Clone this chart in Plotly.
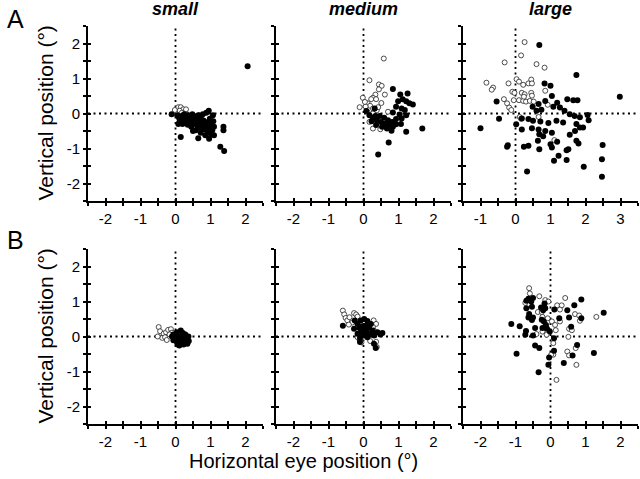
import plotly.graph_objects as go

# --- data: eye position scatter (degrees) ---
# row A, "small"
a_small_filled_x = [-0.11, 0.05, 0.10, 0.15, 0.18, 0.22, 0.25, 0.28, 0.30, 0.33, 0.36, 0.38, 0.40, 0.42,
                    0.45, 0.48, 0.50, 0.52, 0.55, 0.57, 0.60, 0.62, 0.65, 0.68, 0.70, 0.72, 0.75, 0.78,
                    0.80, 0.82, 0.85, 0.88, 0.90, 0.92, 0.95, 0.98, 1.00, 1.02, 1.05, 1.08, 1.10, 0.12,
                    0.20, 0.35, 0.45, 0.58, 0.15, 0.65, 0.96, 1.10, 1.28, 1.39, 1.37, 1.37, 0.95, 1.07,
                    2.06, 0.50, 0.72, 0.85, 0.25, 0.08]
a_small_filled_y = [-0.02, -0.05, -0.12, -0.08, -0.18, -0.05, -0.15, -0.25, -0.10, -0.20, -0.05, -0.14,
                    -0.28, -0.10, -0.20, -0.02, -0.30, -0.15, -0.08, -0.25, -0.18, -0.35, -0.05, -0.22,
                    -0.40, -0.12, -0.30, -0.02, -0.20, -0.45, -0.35, 0.02, -0.25, -0.55, -0.40, -0.15,
                    -0.30, -0.60, -0.48, -0.22, -0.38, -0.22, -0.30, -0.32, -0.38, -0.48, -0.67, -0.71,
                    -0.72, -0.62, -0.95, -1.07, -0.38, -0.48, 0.08, -0.05, 1.35, -0.50, -0.55, -0.62,
                    -0.02, -0.30]
a_small_open_x = [0.08, 0.15, 0.22, 0.02, 0.12, 0.28, 0.18, -0.02, 0.30]
a_small_open_y = [0.18, 0.18, 0.12, 0.05, 0.08, 0.05, 0.02, 0.10, 0.12]

# row A, "medium"
a_medium_filled_x = [0.84, 0.32, 0.34, 1.05, 1.26, 0.99, 1.12, 1.22, 1.31, 1.41, 0.93, 1.09, 1.18, 1.03,
                     1.22, 0.84, 0.17, 0.27, 0.38, 0.50, 0.61, 0.72, 0.84, 0.46, 0.59, 0.70, 0.82, 0.93,
                     0.67, 0.80, 1.07, 1.22, 1.68, 0.72, 0.42, 0.08, 0.23, 0.36, 0.53, 0.93, 1.09]
a_medium_filled_y = [0.70, 0.14, -0.07, 0.54, 0.57, 0.35, 0.41, 0.35, 0.29, 0.26, 0.19, 0.14, 0.10, -0.03,
                     -0.05, 0.03, -0.05, -0.12, -0.19, -0.24, -0.29, -0.33, -0.38, -0.07, -0.12, -0.19,
                     -0.24, -0.31, -0.43, -0.49, -0.30, -0.52, -0.43, -0.83, -1.17, 0.07, -0.22, -0.33,
                     -0.38, -0.16, -0.14]
a_medium_open_x = [0.58, 0.17, 0.44, 0.52, 0.44, -0.02, 0.34, 0.27, 0.22, 0.36, 0.61, 0.12, 0.19, -0.11,
                   0.06, 0.27, 0.38, 0.51, 0.11, 0.27, 0.70, 0.17, 0.27, 0.48, 0.42, 0.04]
a_medium_open_y = [1.57, 0.95, 0.83, 0.79, 0.69, 0.45, 0.54, 0.45, 0.41, 0.41, 0.54, 0.29, 0.22, 0.18,
                   0.20, 0.14, 0.09, 0.30, 0.05, 0.00, 0.05, -0.24, -0.43, -0.45, 0.18, 0.33]

# row A, "large"
a_large_filled_x = [0.68, 1.74, 2.98, -0.54, -0.47, -1.00, 0.83, 1.00, 1.04, 0.85, 1.19, 1.48, 1.65, 1.77,
                    0.66, 0.49, 1.08, 1.27, 0.60, 0.74, 1.40, 1.55, 1.69, 2.06, 1.84, 2.09, 0.02, 0.18,
                    0.37, 0.50, 0.71, 0.94, 1.17, 1.36, 1.74, 1.93, 0.18, 0.47, 0.66, 0.85, 1.04, 0.68,
                    0.79, 1.55, 1.70, 1.84, 0.64, 1.00, 1.19, 1.04, 1.74, 1.80, 1.46, 1.51, -0.24, 0.24,
                    0.37, 0.68, 1.23, 1.10, 1.46, 1.95, 0.33, 2.49, 2.47, 2.47, -0.22]
a_large_filled_y = [1.96, 1.10, 0.48, 0.34, -0.15, -0.42, 0.86, 0.79, 0.50, 0.36, 0.31, 0.41, 0.38, 0.38,
                    0.27, 0.19, 0.19, 0.17, 0.08, 0.11, 0.08, -0.02, -0.07, -0.04, -0.11, -0.19, -0.31,
                    -0.14, -0.16, -0.21, -0.23, -0.27, -0.21, -0.26, -0.30, -0.40, -0.46, -0.42, -0.46,
                    -0.50, -0.55, -0.59, -0.65, -0.61, -0.50, -0.40, -0.78, -0.88, -0.81, -0.97, -0.78,
                    -0.86, -1.05, -1.02, -0.95, -0.95, -0.92, -1.02, -1.21, -1.35, -1.33, -1.52, -1.66,
                    -0.90, -1.31, -1.81, -0.91]
a_large_open_x = [0.26, 0.16, -0.31, 0.60, 0.83, -0.83, -0.64, -0.68, -0.20, 0.03, 0.10, 0.22, 0.37, 0.45,
                  0.47, 0.85, -0.09, -0.03, 0.18, 0.26, 0.45, 0.47, -0.33, -0.05, 0.10, 0.22, 0.30, 0.41,
                  0.52, -0.24, -0.18, -0.12, 0.12, 0.16, 0.92, 0.66, 1.11, 0.24]
a_large_open_y = [2.04, 1.66, 1.46, 1.41, 1.31, 0.88, 0.74, 0.68, 0.86, 0.98, 0.91, 0.82, 0.86, 0.97,
                  0.86, 0.65, 0.62, 0.59, 0.59, 0.55, 0.59, 0.51, 0.41, 0.38, 0.38, 0.36, 0.34, 0.36,
                  0.34, 0.29, 0.17, 0.10, -0.10, -0.15, 0.25, -0.10, -0.76, 0.48]

# row B, "small"
b_small_filled_x = [-0.06, 0.04, 0.15, -0.01, 0.09, 0.18, 0.28, 0.04, 0.13, 0.23, 0.32, 0.38, 0.11, 0.23,
                    0.34, -0.10, -0.06, 0.06, 0.37, 0.21, 0.30]
b_small_filled_y = [0.06, 0.12, 0.17, -0.07, 0.00, 0.02, 0.06, -0.16, -0.13, -0.10, -0.07, -0.13, -0.26,
                    -0.23, -0.21, 0.00, -0.11, -0.23, 0.00, 0.10, -0.16]
b_small_open_x = [-0.48, -0.44, -0.34, -0.27, -0.38, -0.21, -0.13, -0.10, -0.51, -0.30, -0.17, -0.25]
b_small_open_y = [0.27, 0.15, 0.08, 0.12, -0.04, 0.19, 0.21, 0.11, 0.00, -0.02, 0.06, -0.10]

# row B, "medium"
b_medium_filled_x = [-0.59, -0.25, -0.17, -0.08, 0.02, 0.11, 0.21, -0.12, -0.03, 0.07, 0.16, 0.26, -0.08,
                     0.02, 0.11, 0.21, -0.17, 0.00, -0.10, 0.11, 0.54, 0.48, -0.10, 0.30, 0.35, -0.27,
                     0.07, 0.30, 0.40]
b_medium_filled_y = [0.31, 0.46, 0.36, 0.46, 0.50, 0.44, 0.36, 0.25, 0.29, 0.31, 0.25, 0.17, 0.12, 0.15,
                     0.10, 0.06, 0.08, 0.03, -0.04, -0.02, 0.10, 0.06, -0.16, -0.21, -0.33, 0.22, 0.19,
                     0.03, 0.12]
b_medium_open_x = [-0.59, -0.55, -0.51, -0.46, -0.40, -0.27, -0.21, -0.17, -0.32, -0.42, 0.29, 0.36, 0.27,
                   0.30, -0.11, -0.06, 0.19, 0.36, 0.38, -0.17]
b_medium_open_y = [0.74, 0.63, 0.53, 0.46, 0.55, 0.67, 0.63, 0.57, 0.40, 0.34, 0.46, 0.36, 0.27, 0.17,
                   -0.10, -0.17, -0.13, -0.15, -0.30, -0.02]

# row B, "large"
b_large_filled_x = [-1.12, -0.97, -0.88, -0.70, -0.72, -0.63, -0.50, -0.55, -0.69, -0.69, -0.53, -0.61,
                    -0.63, -0.50, -0.53, -0.50, -0.44, -0.44, -0.32, -0.34, -0.25, -0.27, -0.21, -0.15,
                    -0.17, -0.19, -0.23, -0.13, -0.10, -0.02, 0.10, 0.11, 0.25, 0.10, -0.06, -0.04, 0.48,
                    0.53, 0.68, 0.88, 0.88, 0.59, 0.76, 0.63, 0.38, 1.24, 1.52]
b_large_filled_y = [0.36, -0.49, 0.29, 0.16, 0.05, 1.08, 1.10, 1.00, 1.02, 0.81, 0.85, 0.64, 0.54, 0.54,
                    0.47, 0.03, 0.24, -0.26, -0.33, -1.02, 0.48, 0.83, 0.75, 0.81, 0.94, 0.43, 0.24, 0.33,
                    0.22, 0.14, -0.05, 0.77, 0.52, -0.41, -0.81, -0.60, 0.75, 0.54, 0.89, 1.06, 0.52,
                    0.28, -0.24, -0.54, -0.76, -0.47, 0.68]
b_large_open_x = [-0.61, -0.59, -0.32, -0.15, -0.06, -0.72, -0.36, -0.25, -0.23, -0.08, 0.04, 0.13, 0.19,
                  0.32, 0.42, 0.27, 0.27, 0.70, 0.82, 0.84, 1.31, 0.53, 0.61, 0.51, 0.08, 0.08, 0.02,
                  0.48, 0.53, 0.72, 0.74, 0.17, -0.40, -0.23, -0.11, 0.15]
b_large_open_y = [1.38, 1.23, 1.15, 1.04, 1.00, 0.96, 0.70, 0.70, 0.56, 0.52, 0.43, 0.33, 0.89, 0.89,
                  1.10, 0.77, 0.43, 0.64, 0.60, 0.45, 0.56, 0.22, 0.18, -0.01, -0.19, -0.52, -0.52,
                  -0.43, -0.54, -0.33, -0.81, -1.24, 0.07, 0.14, 0.05, 0.18]

panel_titles = ["small", "medium", "large"]
row_labels = ["A", "B"]

panels = [
    (a_small_filled_x, a_small_filled_y, a_small_open_x, a_small_open_y, [-2.5, 2.5]),
    (a_medium_filled_x, a_medium_filled_y, a_medium_open_x, a_medium_open_y, [-2.5, 2.5]),
    (a_large_filled_x, a_large_filled_y, a_large_open_x, a_large_open_y, [-1.5, 3.5]),
    (b_small_filled_x, b_small_filled_y, b_small_open_x, b_small_open_y, [-2.5, 2.5]),
    (b_medium_filled_x, b_medium_filled_y, b_medium_open_x, b_medium_open_y, [-2.5, 2.5]),
    (b_large_filled_x, b_large_filled_y, b_large_open_x, b_large_open_y, [-2.5, 2.5]),
]

W, H = 640, 479
col_px = [(88, 263), (276, 451), (463, 638)]
row_px = [(26, 201), (249, 424)]
FONT = "Arial, Liberation Sans, sans-serif"


def half_ticks(lo, hi):
    vals, text = [], []
    v = lo
    while v <= hi + 1e-9:
        vals.append(round(v, 2))
        text.append(str(int(round(v))) if abs(v - round(v)) < 1e-9 else "")
        v += 0.5
    return vals, text


fig = go.Figure()
layout = {}
shapes = []

for i, (fx, fy, ox, oy, xr) in enumerate(panels):
    r, c = divmod(i, 3)
    n = i + 1
    xs = "" if n == 1 else str(n)
    xdom = [col_px[c][0] / W, col_px[c][1] / W]
    ydom = [1 - row_px[r][1] / H, 1 - row_px[r][0] / H]
    xv, xt = half_ticks(xr[0], xr[1])
    yv, yt = half_ticks(-2.5, 2.5)

    common = dict(showgrid=False, zeroline=False, tickcolor="black", tickwidth=1.6)
    tfont = dict(family=FONT, size=15, color="black")
    layout["xaxis" + xs] = dict(domain=xdom, range=xr, anchor="y" + xs, tickvals=xv, ticktext=xt,
                                ticks="outside", ticklen=3, showline=True, linecolor="black",
                                linewidth=1.8, fixedrange=True, tickfont=tfont, **common)
    layout["yaxis" + xs] = dict(domain=ydom, range=[-2.5, 2.5], anchor="x" + xs, tickvals=yv,
                                ticktext=yt, ticks="outside", ticklen=3, showline=True,
                                linecolor="black", linewidth=1.8, showticklabels=(c == 0),
                                fixedrange=True, tickfont=tfont, **common)
    # inside half of the crossing ticks
    m = str(n + 6)
    layout["xaxis" + m] = dict(overlaying="x" + xs, anchor="y" + xs, range=xr, tickvals=xv,
                               ticks="inside", ticklen=3, showticklabels=False, showline=False, **common)
    layout["yaxis" + m] = dict(overlaying="y" + xs, anchor="x" + xs, range=[-2.5, 2.5], tickvals=yv,
                               ticks="inside", ticklen=3, showticklabels=False, showline=False, **common)
    fig.add_trace(go.Scatter(x=[None], y=[None], xaxis="x" + m, yaxis="y" + m,
                             showlegend=False, hoverinfo="skip"))

    # dotted zero lines
    dot = dict(color="black", width=1.8, dash="2px,3.5px")
    shapes.append(dict(type="line", xref="x" + xs, yref="y" + xs, x0=0, x1=0, y0=-2.5, y1=2.5,
                       line=dot, layer="below"))
    shapes.append(dict(type="line", xref="x" + xs, yref="y" + xs, x0=xr[0], x1=xr[1], y0=0, y1=0,
                       line=dot, layer="below"))

    fig.add_trace(go.Scatter(x=ox, y=oy, mode="markers", xaxis="x" + xs, yaxis="y" + xs,
                             marker=dict(symbol="circle", size=5, color="white",
                                         line=dict(color="#222", width=0.8)),
                             showlegend=False, cliponaxis=False))
    fig.add_trace(go.Scatter(x=fx, y=fy, mode="markers", xaxis="x" + xs, yaxis="y" + xs,
                             marker=dict(symbol="circle", size=6, color="black", line=dict(width=0)),
                             showlegend=False, cliponaxis=False))

annotations = []
for c, t in enumerate(panel_titles):
    annotations.append(dict(text="<b><i>" + t + "</i></b>", x=(col_px[c][0] + col_px[c][1]) / 2 / W,
                            y=1 - 9 / H, xref="paper", yref="paper", showarrow=False,
                            font=dict(family=FONT, size=18, color="black"),
                            xanchor="center", yanchor="middle"))
for r, lab in enumerate(row_labels):
    annotations.append(dict(text=lab, x=15 / W, y=1 - (19 if r == 0 else 240) / H, xref="paper",
                            yref="paper", showarrow=False, xanchor="center", yanchor="middle",
                            font=dict(family=FONT, size=25, color="black")))
    annotations.append(dict(text="Vertical position (°)", x=45 / W,
                            y=1 - (row_px[r][0] + row_px[r][1]) / 2 / H, xref="paper", yref="paper",
                            showarrow=False, textangle=-90, xanchor="center", yanchor="middle",
                            font=dict(family=FONT, size=21, color="black")))
annotations.append(dict(text="Horizontal eye position (°)", x=303 / W, y=1 - 461 / H, xref="paper",
                        yref="paper", showarrow=False, xanchor="center", yanchor="middle",
                        font=dict(family=FONT, size=20, color="black")))

fig.update_layout(width=W, height=H, margin=dict(l=0, r=0, t=0, b=0),
                  paper_bgcolor="white", plot_bgcolor="white", hovermode=False,
                  shapes=shapes, annotations=annotations, **layout)

# page body has an 8px default margin; drop it so the figure sits at the window corner
fig.write_html("out.html", config={"displayModeBar": False},
               post_script="document.body.style.margin='0';")
